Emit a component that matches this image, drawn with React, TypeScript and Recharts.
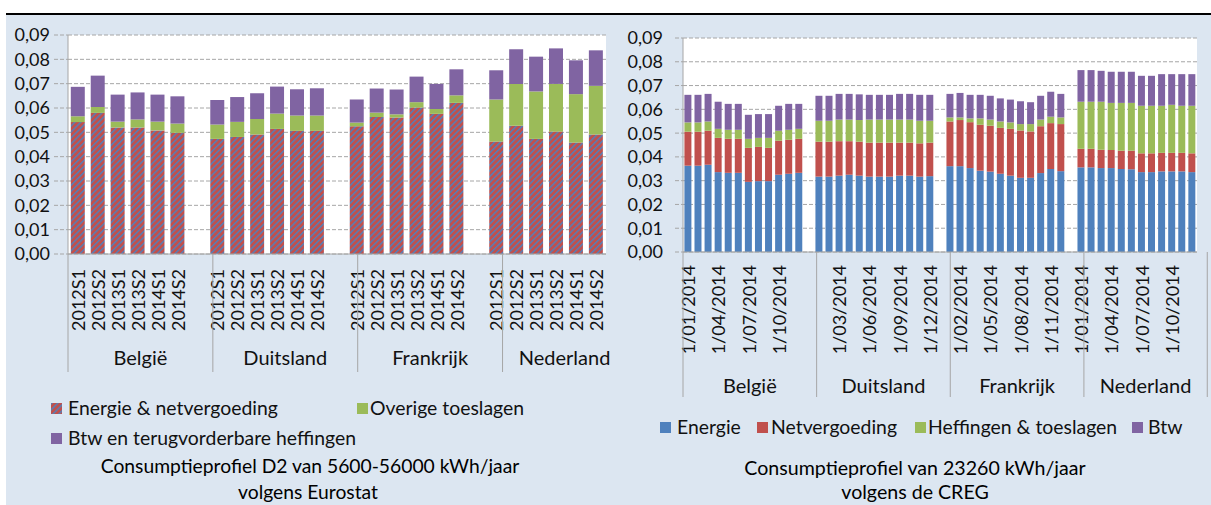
import React from 'react';
import { BarChart, Bar, XAxis, YAxis, CartesianGrid } from 'recharts';

const FONT = "Lato, 'Open Sans', sans-serif";
const BG = '#dce6f1';
const GRID = '#a6a6a6';
const BLUE = '#4f81bd';
const RED = '#c0504d';
const GREEN = '#9bbb59';
const PURPLE = '#8064a2';

// ---------- Left chart data (Eurostat, D2) ----------
const countries = ['België', 'Duitsland', 'Frankrijk', 'Nederland'];
const periods = ['2012S1', '2012S2', '2013S1', '2013S2', '2014S1', '2014S2'];
const energieNet = [
  [0.0542, 0.058, 0.052, 0.052, 0.0508, 0.0498],
  [0.0473, 0.0481, 0.0491, 0.0514, 0.0506, 0.0506],
  [0.0525, 0.0563, 0.0561, 0.0602, 0.0576, 0.0621],
  [0.0462, 0.0527, 0.0473, 0.0503, 0.0458, 0.0491],
];
const overigeToeslagen = [
  [0.0024, 0.0024, 0.0024, 0.0033, 0.0036, 0.0038],
  [0.0059, 0.0062, 0.0064, 0.0063, 0.0063, 0.0063],
  [0.0015, 0.0018, 0.0013, 0.0022, 0.002, 0.0031],
  [0.0173, 0.0172, 0.0195, 0.0196, 0.0199, 0.02],
];
const btwHeffingen = [
  [0.0121, 0.0129, 0.0111, 0.0111, 0.0111, 0.0112],
  [0.0101, 0.0102, 0.0106, 0.0111, 0.0108, 0.0112],
  [0.0095, 0.0099, 0.0102, 0.0105, 0.0103, 0.0107],
  [0.012, 0.0142, 0.0143, 0.0146, 0.0139, 0.0146],
];

// ---------- Right chart data (CREG, 23260 kWh) ----------
const months = [
  '1/01/2014', '1/02/2014', '1/03/2014', '1/04/2014', '1/05/2014', '1/06/2014',
  '1/07/2014', '1/08/2014', '1/09/2014', '1/10/2014', '1/11/2014', '1/12/2014',
];
const energie = [
  [0.0363, 0.0363, 0.0367, 0.0336, 0.0333, 0.0333, 0.0295, 0.0298, 0.0298, 0.0325, 0.0329, 0.0333],
  [0.0317, 0.0317, 0.0321, 0.0325, 0.0321, 0.0317, 0.0317, 0.0317, 0.0321, 0.0321, 0.0317, 0.0319],
  [0.0361, 0.0361, 0.0353, 0.0342, 0.0338, 0.0329, 0.0321, 0.0312, 0.0312, 0.0332, 0.0349, 0.034],
  [0.0356, 0.0356, 0.0353, 0.0353, 0.0349, 0.0348, 0.0336, 0.0336, 0.0339, 0.0339, 0.0339, 0.0336],
];
const netvergoeding = [
  [0.0143, 0.0143, 0.0143, 0.0144, 0.0143, 0.0143, 0.0143, 0.0144, 0.014, 0.0143, 0.0143, 0.0143],
  [0.0147, 0.0147, 0.0145, 0.0141, 0.0143, 0.0143, 0.0143, 0.0143, 0.0139, 0.0139, 0.014, 0.0141],
  [0.0188, 0.0194, 0.0193, 0.0193, 0.0193, 0.0193, 0.0197, 0.0199, 0.0195, 0.0197, 0.0193, 0.0198],
  [0.0078, 0.0078, 0.0077, 0.0076, 0.0077, 0.0078, 0.0079, 0.0079, 0.0078, 0.0078, 0.0078, 0.0079],
];
const heffingenToeslagen = [
  [0.0039, 0.0039, 0.0039, 0.0038, 0.0038, 0.0038, 0.0038, 0.0038, 0.0042, 0.0042, 0.0042, 0.0042],
  [0.0088, 0.0088, 0.0091, 0.0091, 0.0091, 0.0097, 0.0097, 0.0097, 0.0097, 0.0097, 0.0095, 0.0092],
  [0.0017, 0.0011, 0.0016, 0.0027, 0.0026, 0.0027, 0.0027, 0.0027, 0.0031, 0.0028, 0.0027, 0.0028],
  [0.0198, 0.0198, 0.0202, 0.0198, 0.0201, 0.0201, 0.02, 0.02, 0.0198, 0.0202, 0.0198, 0.02],
];
const btw = [
  [0.0116, 0.0116, 0.0116, 0.0114, 0.0109, 0.0109, 0.0101, 0.01, 0.01, 0.0105, 0.0109, 0.0105],
  [0.0105, 0.0105, 0.0108, 0.0108, 0.0108, 0.0104, 0.0104, 0.0104, 0.0108, 0.0108, 0.0109, 0.0109],
  [0.0099, 0.0103, 0.0099, 0.0099, 0.01, 0.0097, 0.0096, 0.0096, 0.0092, 0.01, 0.0105, 0.0099],
  [0.0133, 0.0133, 0.013, 0.0131, 0.0131, 0.0131, 0.0126, 0.0126, 0.0133, 0.0129, 0.0133, 0.0133],
];

const yTicks = [0, 0.01, 0.02, 0.03, 0.04, 0.05, 0.06, 0.07, 0.08, 0.09];

const leftLegend = ['Energie & netvergoeding', 'Overige toeslagen', 'Btw en terugvorderbare heffingen'];
const rightLegend = ['Energie', 'Netvergoeding', 'Heffingen & toeslagen', 'Btw'];
const leftTitle = ['Consumptieprofiel D2 van 5600-56000 kWh/jaar', 'volgens Eurostat'];
const rightTitle = ['Consumptieprofiel van 23260 kWh/jaar', 'volgens de CREG'];

type Row = Record<string, string | number | undefined>;

function buildRows(groups: string[], labels: string[], series: Record<string, number[][]>): Row[] {
  const rows: Row[] = [];
  groups.forEach((g, gi) => {
    labels.forEach((l, li) => {
      const row: Row = { label: l, group: g };
      Object.keys(series).forEach((k) => {
        row[k] = series[k][gi][li];
      });
      rows.push(row);
    });
    if (gi < groups.length - 1) rows.push({ label: '', group: g });
  });
  return rows;
}

function groupTicks(groups: string[], n: number) {
  const bounds: number[] = [0];
  const centers: number[] = [];
  let start = 0;
  groups.forEach((_, gi) => {
    const size = n + (gi < groups.length - 1 ? 1 : 0);
    centers.push(start + size / 2);
    start += size;
    bounds.push(start);
  });
  return { bounds, centers, total: start, all: [...bounds, ...centers].sort((a, b) => a - b) };
}

const leftRows = buildRows(countries, periods, { en: energieNet, ov: overigeToeslagen, bt: btwHeffingen });
const rightRows = buildRows(countries, months, {
  e: energie,
  n: netvergoeding,
  h: heffingenToeslagen,
  b: btw,
});
const leftG = groupTicks(countries, periods.length);
const rightG = groupTicks(countries, months.length);

const fmt = (v: number) => v.toFixed(2).replace('.', ',');

const RotTick = (props: any) => {
  const { x, y, payload, gap, fontSize } = props;
  const yy = y + gap;
  return (
    <text
      x={x}
      y={yy}
      transform={`rotate(-90, ${x}, ${yy})`}
      textAnchor="end"
      dominantBaseline="central"
      fontSize={fontSize}
      fontFamily={FONT}
      fill="#111"
    >
      {payload.value}
    </text>
  );
};

const GroupTick = (props: any) => {
  const { x, y, payload, info, names, lift, depth, labelDy, fontSize } = props;
  const v = payload.value;
  const ci = info.centers.indexOf(v);
  if (ci >= 0) {
    return (
      <text x={x} y={y - lift + labelDy} textAnchor="middle" fontSize={fontSize} fontFamily={FONT} fill="#111">
        {names[ci]}
      </text>
    );
  }
  return <line x1={x} x2={x} y1={y - lift} y2={y - lift + depth} stroke={GRID} strokeWidth={1} />;
};

const Swatch = ({ fill }: { fill: string }) => (
  <svg width={11} height={11} style={{ display: 'block' }}>
    <rect width={11} height={11} fill={fill} />
  </svg>
);

const LegendItem = ({ x, y, fill, text, textX }: { x: number; y: number; fill: string; text: string; textX: number }) => (
  <>
    <div style={{ position: 'absolute', left: x, top: y - 5.5 }}>
      <Swatch fill={fill} />
    </div>
    <div
      style={{
        position: 'absolute',
        left: textX,
        top: y,
        transform: 'translateY(-50%)',
        fontFamily: FONT,
        fontSize: 19.4,
        color: '#111',
        whiteSpace: 'nowrap',
        lineHeight: 1,
      }}
    >
      {text}
    </div>
  </>
);

const Title = ({ cx, y, text, size }: { cx: number; y: number; text: string; size: number }) => (
  <div
    style={{
      position: 'absolute',
      left: cx,
      top: y,
      transform: 'translate(-50%, -50%)',
      fontFamily: FONT,
      fontSize: size,
      color: '#000',
      whiteSpace: 'nowrap',
      lineHeight: 1,
    }}
  >
    {text}
  </div>
);

export default function App() {
  const yTickStyle = { fontSize: 18, fill: '#111', fontFamily: FONT };
  return (
    <div style={{ position: 'absolute', left: 0, top: 0, width: 1211, height: 505, background: '#fff', overflow: 'hidden' }}>
      <svg width={0} height={0} style={{ position: 'absolute' }}>
        <defs>
          <pattern id="hatch" width={4.2} height={4.2} patternUnits="userSpaceOnUse" patternTransform="rotate(45)">
            <rect width={4.2} height={4.2} fill={RED} />
            <rect width={1.4} height={4.2} fill={BLUE} />
          </pattern>
        </defs>
      </svg>
      <div style={{ position: 'absolute', left: 6, top: 15, width: 1205, height: 490, background: BG }} />
      <div style={{ position: 'absolute', left: 6, top: 13, width: 1205, height: 2, background: '#000' }} />

      {/* Left chart */}
      <div style={{ position: 'absolute', left: 0, top: 0 }}>
        <BarChart width={610} height={505} data={leftRows} margin={{ top: 35, right: 4, bottom: 0, left: 0 }} barCategoryGap="14%">
          <CartesianGrid vertical={false} stroke={GRID} strokeDasharray="4 2" fill="#fff" fillOpacity={1} />
          <YAxis
            width={68}
            domain={[0, 0.09]}
            ticks={yTicks}
            interval={0}
            tickFormatter={fmt}
            axisLine={{ stroke: GRID }}
            tickLine={{ stroke: GRID, strokeDasharray: '4 2' }}
            tickSize={14}
            tickMargin={4}
            tick={yTickStyle}
          />
          <XAxis
            dataKey="label"
            interval={0}
            height={80}
            axisLine={{ stroke: GRID }}
            tickLine={false}
            tickSize={0}
            tickMargin={0}
            tick={(p: any) => <RotTick {...p} gap={15} fontSize={18} />}
          />
          <XAxis
            xAxisId="grp"
            type="number"
            domain={[0, leftG.total]}
            ticks={leftG.all}
            interval={0}
            allowDataOverflow
            height={171}
            axisLine={false}
            tickLine={false}
            tickSize={0}
            tickMargin={0}
            tick={(p: any) => (
              <GroupTick {...p} info={leftG} names={countries} lift={80} depth={118} labelDy={111} fontSize={20} />
            )}
          />
          <Bar dataKey="en" stackId="a" fill="url(#hatch)" isAnimationActive={false} />
          <Bar dataKey="ov" stackId="a" fill={GREEN} isAnimationActive={false} />
          <Bar dataKey="bt" stackId="a" fill={PURPLE} isAnimationActive={false} />
        </BarChart>
      </div>

      {/* Right chart */}
      <div style={{ position: 'absolute', left: 610, top: 0 }}>
        <BarChart width={601} height={505} data={rightRows} margin={{ top: 38, right: 14, bottom: 0, left: 0 }} barCategoryGap="14%">
          <CartesianGrid vertical={false} stroke={GRID} strokeDasharray="4 2" fill="#fff" fillOpacity={1} />
          <YAxis
            width={73}
            domain={[0, 0.09]}
            ticks={yTicks}
            interval={0}
            tickFormatter={fmt}
            axisLine={{ stroke: GRID }}
            tickLine={{ stroke: GRID, strokeDasharray: '4 2' }}
            tickSize={8}
            tickMargin={12}
            tick={yTickStyle}
          />
          <XAxis
            dataKey="label"
            interval={2}
            height={100}
            axisLine={{ stroke: GRID }}
            tickLine={false}
            tickSize={0}
            tickMargin={0}
            tick={(p: any) => <RotTick {...p} gap={13} fontSize={18} />}
          />
          <XAxis
            xAxisId="grp"
            type="number"
            domain={[0, rightG.total]}
            ticks={rightG.all}
            interval={0}
            allowDataOverflow
            height={153}
            axisLine={false}
            tickLine={false}
            tickSize={0}
            tickMargin={0}
            tick={(p: any) => (
              <GroupTick {...p} info={rightG} names={countries} lift={100} depth={145} labelDy={141} fontSize={20} />
            )}
          />
          <Bar dataKey="e" stackId="a" fill={BLUE} isAnimationActive={false} />
          <Bar dataKey="n" stackId="a" fill={RED} isAnimationActive={false} />
          <Bar dataKey="h" stackId="a" fill={GREEN} isAnimationActive={false} />
          <Bar dataKey="b" stackId="a" fill={PURPLE} isAnimationActive={false} />
        </BarChart>
      </div>

      {/* Left legend */}
      <LegendItem x={51} y={408} fill="url(#hatch)" text={leftLegend[0]} textX={68} />
      <LegendItem x={357} y={408} fill={GREEN} text={leftLegend[1]} textX={370} />
      <LegendItem x={51} y={438} fill={PURPLE} text={leftLegend[2]} textX={68} />
      <Title cx={310} y={466} text={leftTitle[0]} size={19.3} />
      <Title cx={308} y={492} text={leftTitle[1]} size={19.3} />

      {/* Right legend */}
      <LegendItem x={660} y={427} fill={BLUE} text={rightLegend[0]} textX={677} />
      <LegendItem x={757} y={427} fill={RED} text={rightLegend[1]} textX={771} />
      <LegendItem x={915} y={427} fill={GREEN} text={rightLegend[2]} textX={928} />
      <LegendItem x={1132} y={427} fill={PURPLE} text={rightLegend[3]} textX={1148} />
      <Title cx={915} y={468} text={rightTitle[0]} size={19.6} />
      <Title cx={915} y={492} text={rightTitle[1]} size={19.6} />
    </div>
  );
}
